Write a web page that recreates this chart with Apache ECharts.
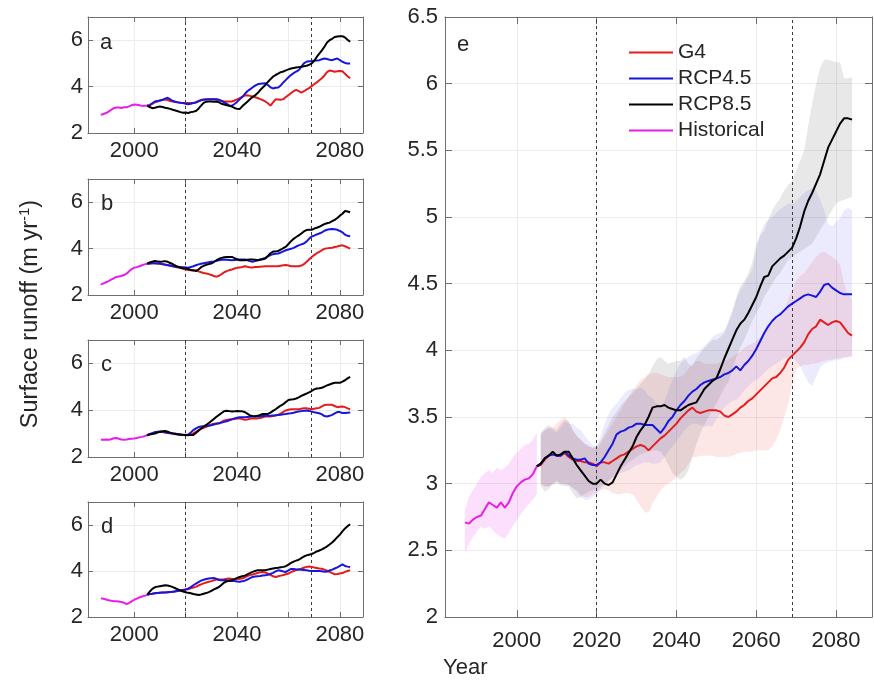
<!DOCTYPE html>
<html><head><meta charset="utf-8">
<script src="https://cdn.jsdelivr.net/npm/echarts@6/dist/echarts.min.js"></script>
<style>html,body{margin:0;padding:0;background:#fff}#c{width:874px;height:683px}</style>
</head><body><div id="c"></div>
<script>
// ---------------- DATA ----------------
function yearsFrom(start, end){ const a=[]; for(let y=start;y<=end;y++) a.push(y); return a; }
const histYears = yearsFrom(1987, 2005);
const projYears = yearsFrom(2005, 2084);
const bandYears = yearsFrom(2006, 2084);
const xTickValues = [2000, 2020, 2040, 2060, 2080];
const xLabelsSmall = [2000, 2040, 2080];
const xLabelsBig = [2000, 2020, 2040, 2060, 2080];
const yTicksSmall = [2, 4, 6];
const yTicksBig = [2, 2.5, 3, 3.5, 4, 4.5, 5, 5.5, 6, 6.5];
const markYears = [2020, 2069];
const seriesNames = ['G4', 'RCP4.5', 'RCP8.5', 'Historical'];
const panelLetters = ['a', 'b', 'c', 'd', 'e'];

// panel a
const histA = [2.78,2.82,2.86,2.92,3.00,3.07,3.10,3.10,3.08,3.11,3.11,3.15,3.20,3.23,3.22,3.20,3.17,3.17,3.18];
const g4A = [3.18,
 3.20,3.26,3.32,3.36,3.40,3.42,3.44,3.42,3.38,3.36,
 3.34,3.32,3.30,3.29,3.29,3.29,3.29,3.29,3.33,3.38,
 3.42,3.44,3.46,3.46,3.46,3.46,3.46,3.42,3.38,3.36,
 3.36,3.36,3.36,3.40,3.45,3.50,3.56,3.62,3.63,3.60,
 3.57,3.54,3.51,3.46,3.42,3.36,3.28,3.18,3.32,3.45,
 3.44,3.43,3.46,3.55,3.63,3.72,3.80,3.86,3.80,3.74,
 3.80,3.87,3.93,4.02,4.10,4.18,4.27,4.36,4.48,4.62,
 4.69,4.67,4.64,4.66,4.67,4.66,4.55,4.45,4.36];
const rcp45A = [3.18,
 3.20,3.28,3.36,3.38,3.40,3.43,3.48,3.52,3.45,3.38,
 3.35,3.32,3.30,3.29,3.26,3.24,3.26,3.29,3.31,3.36,
 3.41,3.43,3.44,3.45,3.46,3.45,3.44,3.43,3.38,3.32,
 3.26,3.19,3.18,3.25,3.34,3.45,3.55,3.68,3.80,3.88,
 3.96,4.04,4.10,4.12,4.13,4.14,4.07,3.97,3.92,3.95,
 3.96,4.05,4.18,4.29,4.40,4.50,4.58,4.65,4.71,4.85,
 5.00,5.07,5.09,5.10,5.12,5.13,5.14,5.18,5.21,5.19,
 5.16,5.14,5.18,5.21,5.14,5.07,5.02,5.00,5.00];
const rcp85A = [3.18,
 3.12,3.07,3.09,3.12,3.14,3.12,3.09,3.07,3.04,3.00,
 2.97,2.94,2.90,2.87,2.88,2.86,2.90,2.92,2.95,3.05,
 3.18,3.30,3.35,3.36,3.36,3.35,3.36,3.32,3.26,3.23,
 3.20,3.17,3.14,3.08,3.04,3.03,3.15,3.25,3.35,3.45,
 3.55,3.62,3.72,3.85,3.96,4.07,4.20,4.32,4.43,4.50,
 4.56,4.62,4.65,4.70,4.74,4.78,4.80,4.82,4.84,4.86,
 4.88,4.90,4.93,5.00,5.10,5.28,5.42,5.56,5.72,5.90,
 6.00,6.06,6.14,6.16,6.17,6.17,6.12,6.02,5.93];

// panel b
const histB = [2.45,2.50,2.55,2.60,2.66,2.72,2.78,2.80,2.82,2.86,2.92,3.02,3.12,3.18,3.20,3.24,3.28,3.32,3.35];
const g4B = [3.35,
 3.36,3.37,3.37,3.36,3.35,3.33,3.31,3.29,3.27,3.24,
 3.21,3.19,3.16,3.13,3.10,3.08,3.07,3.07,3.07,3.02,
 2.98,2.95,2.93,2.90,2.86,2.82,2.79,2.83,2.90,2.98,
 3.03,3.07,3.10,3.14,3.17,3.19,3.21,3.24,3.22,3.19,
 3.19,3.21,3.21,3.22,3.23,3.24,3.24,3.24,3.24,3.24,
 3.24,3.26,3.28,3.29,3.27,3.24,3.24,3.24,3.24,3.27,
 3.33,3.42,3.53,3.63,3.72,3.80,3.86,3.93,3.99,4.01,
 4.03,4.04,4.07,4.09,4.12,4.14,4.10,4.05,4.00];
const rcp45B = [3.35,
 3.36,3.37,3.37,3.36,3.36,3.33,3.30,3.28,3.26,3.24,
 3.23,3.22,3.21,3.20,3.19,3.18,3.21,3.24,3.28,3.32,
 3.35,3.37,3.39,3.41,3.43,3.45,3.48,3.50,3.52,3.53,
 3.52,3.51,3.50,3.51,3.52,3.53,3.53,3.53,3.50,3.46,
 3.43,3.46,3.50,3.53,3.56,3.60,3.66,3.72,3.76,3.78,
 3.79,3.83,3.88,3.93,3.96,3.99,4.03,4.09,4.14,4.18,
 4.22,4.30,4.42,4.52,4.56,4.61,4.65,4.70,4.77,4.81,
 4.83,4.84,4.83,4.81,4.76,4.70,4.60,4.55,4.53];
const rcp85B = [3.35,
 3.40,3.44,3.47,3.45,3.43,3.44,3.46,3.43,3.38,3.33,
 3.27,3.21,3.17,3.15,3.14,3.12,3.08,3.06,3.03,3.10,
 3.20,3.26,3.30,3.33,3.36,3.42,3.50,3.56,3.60,3.63,
 3.64,3.64,3.64,3.59,3.54,3.50,3.50,3.50,3.52,3.53,
 3.53,3.52,3.50,3.52,3.54,3.57,3.68,3.80,3.87,3.88,
 3.90,3.96,4.02,4.08,4.20,4.32,4.42,4.50,4.57,4.65,
 4.74,4.80,4.81,4.81,4.86,4.90,4.94,5.00,5.06,5.09,
 5.12,5.18,5.24,5.32,5.42,5.50,5.62,5.60,5.57];

// panel c
const histC = [2.74,2.74,2.75,2.74,2.76,2.80,2.81,2.78,2.75,2.74,2.75,2.77,2.78,2.79,2.81,2.84,2.86,2.89,2.93];
const g4C = [2.93,
 2.98,3.01,3.05,3.07,3.08,3.07,3.05,3.03,3.01,2.99,
 2.97,2.96,2.95,2.94,2.93,2.93,2.96,3.01,3.08,3.15,
 3.20,3.25,3.29,3.34,3.39,3.42,3.43,3.44,3.50,3.56,
 3.58,3.60,3.61,3.62,3.64,3.65,3.62,3.59,3.60,3.63,
 3.65,3.65,3.65,3.67,3.70,3.73,3.73,3.73,3.75,3.77,
 3.80,3.86,3.93,3.99,4.02,4.04,4.04,4.04,4.04,4.06,
 4.08,4.08,4.06,4.04,4.06,4.08,4.10,4.16,4.22,4.23,
 4.23,4.23,4.18,4.13,4.15,4.16,4.13,4.08,4.04];
const rcp45C = [2.93,
 2.98,3.02,3.06,3.08,3.08,3.08,3.06,3.04,3.02,3.01,
 2.99,2.97,2.95,2.94,2.94,2.96,3.05,3.15,3.22,3.28,
 3.30,3.31,3.32,3.34,3.36,3.39,3.42,3.44,3.47,3.50,
 3.53,3.57,3.61,3.65,3.68,3.70,3.70,3.70,3.71,3.72,
 3.73,3.73,3.73,3.74,3.75,3.76,3.76,3.76,3.77,3.78,
 3.80,3.81,3.83,3.84,3.86,3.87,3.89,3.92,3.94,3.96,
 3.98,3.99,3.97,3.94,3.91,3.89,3.87,3.82,3.75,3.73,
 3.76,3.80,3.86,3.92,3.92,3.88,3.88,3.89,3.90];
const rcp85C = [2.93,
 2.96,2.98,3.00,3.04,3.08,3.10,3.11,3.08,3.04,3.01,
 2.99,2.97,2.96,2.95,2.94,2.94,2.94,2.94,3.03,3.12,
 3.22,3.30,3.37,3.45,3.54,3.63,3.72,3.80,3.88,3.96,
 3.98,3.96,3.94,3.95,3.97,3.96,3.95,3.92,3.85,3.78,
 3.75,3.74,3.76,3.80,3.84,3.84,3.84,3.90,3.97,4.04,
 4.12,4.20,4.26,4.35,4.44,4.46,4.47,4.50,4.55,4.61,
 4.66,4.71,4.76,4.82,4.89,4.93,4.94,4.96,5.01,5.06,
 5.10,5.14,5.17,5.17,5.17,5.22,5.28,5.36,5.42];

// panel d
const histD = [2.81,2.79,2.76,2.73,2.71,2.69,2.68,2.67,2.65,2.62,2.56,2.61,2.68,2.75,2.80,2.85,2.89,2.92,2.96];
const g4D = [2.96,
 3.00,3.01,3.03,3.04,3.05,3.06,3.07,3.08,3.09,3.10,
 3.11,3.13,3.15,3.17,3.19,3.21,3.25,3.28,3.31,3.37,
 3.42,3.46,3.50,3.53,3.56,3.60,3.63,3.63,3.63,3.64,
 3.66,3.67,3.65,3.63,3.64,3.66,3.67,3.72,3.78,3.82,
 3.85,3.88,3.91,3.94,3.96,3.93,3.89,3.83,3.77,3.74,
 3.77,3.80,3.83,3.86,3.89,3.95,4.00,4.04,4.07,4.10,
 4.14,4.18,4.20,4.18,4.15,4.13,4.11,4.10,4.06,4.01,
 3.96,3.91,3.86,3.87,3.89,3.91,3.96,4.00,4.03];
const rcp45D = [2.96,
 3.00,3.01,3.03,3.04,3.05,3.06,3.07,3.08,3.09,3.10,
 3.12,3.14,3.16,3.17,3.20,3.23,3.30,3.38,3.45,3.52,
 3.58,3.62,3.65,3.67,3.69,3.70,3.66,3.61,3.60,3.60,
 3.59,3.58,3.57,3.56,3.54,3.53,3.55,3.58,3.63,3.69,
 3.74,3.76,3.77,3.78,3.80,3.81,3.84,3.87,3.92,3.98,
 4.03,4.01,3.98,3.96,4.03,4.09,4.09,4.07,4.06,4.05,
 4.04,4.03,4.01,4.00,4.00,4.00,4.00,3.99,3.97,3.98,
 4.02,4.06,4.11,4.16,4.22,4.29,4.22,4.19,4.17];
const rcp85D = [2.96,
 3.10,3.22,3.29,3.32,3.34,3.36,3.38,3.37,3.34,3.30,
 3.25,3.20,3.15,3.11,3.08,3.05,3.03,3.00,2.98,2.96,
 2.98,3.01,3.04,3.08,3.14,3.20,3.25,3.31,3.40,3.50,
 3.55,3.58,3.60,3.65,3.70,3.74,3.77,3.80,3.85,3.91,
 3.96,4.00,4.03,4.03,4.03,4.03,4.06,4.09,4.11,4.13,
 4.14,4.16,4.18,4.21,4.28,4.35,4.41,4.45,4.49,4.56,
 4.63,4.68,4.71,4.74,4.79,4.85,4.89,4.94,5.00,5.07,
 5.15,5.24,5.35,5.47,5.58,5.72,5.85,5.95,6.03];

// panel e (mean lines)
const histE = [2.71,2.70,2.73,2.75,2.76,2.81,2.86,2.84,2.82,2.86,2.82,2.86,2.93,2.98,3.01,3.03,3.04,3.07,3.13];
const g4E = [3.13,
 3.14,3.18,3.21,3.22,3.21,3.21,3.23,3.20,3.18,3.17,
 3.17,3.16,3.16,3.15,3.13,3.16,3.16,3.15,3.17,3.19,
 3.21,3.22,3.24,3.26,3.28,3.29,3.28,3.25,3.28,3.31,
 3.34,3.36,3.39,3.42,3.45,3.49,3.52,3.55,3.57,3.54,
 3.53,3.54,3.55,3.55,3.55,3.54,3.51,3.50,3.52,3.54,
 3.57,3.59,3.62,3.64,3.67,3.70,3.73,3.76,3.79,3.80,
 3.83,3.87,3.93,3.96,3.99,4.02,4.06,4.12,4.16,4.18,
 4.23,4.21,4.19,4.21,4.22,4.21,4.17,4.13,4.11];
const rcp45E = [3.13,
 3.15,3.19,3.21,3.22,3.21,3.21,3.24,3.21,3.19,3.18,
 3.18,3.19,3.15,3.14,3.14,3.16,3.20,3.25,3.30,3.37,
 3.39,3.40,3.42,3.43,3.45,3.45,3.44,3.44,3.44,3.41,
 3.38,3.42,3.47,3.50,3.55,3.59,3.62,3.66,3.69,3.71,
 3.74,3.76,3.77,3.78,3.79,3.80,3.82,3.83,3.85,3.88,
 3.85,3.89,3.92,3.96,4.01,4.07,4.13,4.18,4.22,4.25,
 4.27,4.30,4.33,4.35,4.37,4.39,4.41,4.42,4.41,4.40,
 4.44,4.49,4.50,4.47,4.45,4.43,4.42,4.42,4.42];
const rcp85E = [3.13,
 3.15,3.19,3.21,3.24,3.21,3.22,3.24,3.24,3.19,3.14,
 3.10,3.06,3.02,3.00,3.00,3.03,3.00,2.99,3.01,3.07,
 3.13,3.18,3.23,3.28,3.35,3.40,3.44,3.50,3.57,3.58,
 3.58,3.59,3.57,3.56,3.55,3.55,3.57,3.59,3.60,3.61,
 3.66,3.71,3.74,3.77,3.79,3.86,3.94,4.01,4.08,4.15,
 4.20,4.23,4.28,4.34,4.40,4.48,4.55,4.56,4.63,4.66,
 4.69,4.71,4.74,4.77,4.84,4.93,5.04,5.12,5.18,5.25,
 5.32,5.42,5.52,5.58,5.64,5.70,5.74,5.74,5.73];

// panel e (spread bands)
const histLoE = [2.48,2.55,2.60,2.64,2.68,2.66,2.68,2.65,2.62,2.60,2.59,2.63,2.68,2.73,2.77,2.81,2.85,2.88,2.92];
const histHiE = [2.80,2.90,2.95,3.00,3.05,3.08,3.10,3.08,3.12,3.10,3.12,3.15,3.20,3.23,3.26,3.29,3.30,3.33,3.38];
const g4LoE = [3.00,2.98,2.98,3.00,3.02,3.00,3.00,2.99,2.97,2.95, 2.92,2.90,2.90,2.92,2.93,2.95,2.96,2.95,2.93,2.92,
 2.92,2.93,2.93,2.92,2.88,2.83,2.79,2.78,2.85,2.90, 2.95,2.98,3.00,3.02,3.05,3.08,3.10,3.15,3.20,3.20,
 3.21,3.21,3.21,3.21,3.20,3.20,3.20,3.20,3.21,3.22, 3.23,3.24,3.24,3.24,3.25,3.25,3.25,3.25,3.28,3.33,
 3.40,3.50,3.60,3.75,3.86,3.88,3.89,3.89,3.90,3.90, 3.91,3.92,3.93,3.93,3.94,3.94,3.95,3.95,3.96];
const g4HiE = [3.36,3.40,3.42,3.42,3.45,3.48,3.50,3.46,3.40,3.36, 3.33,3.30,3.28,3.27,3.27,3.30,3.35,3.40,3.45,3.50,
 3.55,3.60,3.65,3.70,3.74,3.78,3.80,3.82,3.83,3.83, 3.82,3.81,3.80,3.80,3.80,3.80,3.82,3.86,3.90,3.92,
 3.92,3.90,3.90,3.90,3.90,3.91,3.92,3.93,3.95,3.97, 3.99,4.02,4.04,4.05,4.07,4.10,4.13,4.17,4.20,4.23,
 4.25,4.30,4.38,4.45,4.52,4.56,4.58,4.62,4.66,4.70, 4.73,4.74,4.72,4.70,4.68,4.64,4.50,4.42,4.38];
const rcp45LoE = [3.00,2.98,2.98,3.00,3.02,3.00,3.00,2.99,2.97,2.94, 2.90,2.88,2.88,2.90,2.93,2.96,2.99,3.02,3.04,3.06,
 3.08,3.09,3.10,3.12,3.14,3.15,3.16,3.16,3.15,3.15, 3.16,3.20,3.24,3.28,3.32,3.36,3.40,3.43,3.45,3.45,
 3.44,3.43,3.43,3.43,3.48,3.53,3.57,3.60,3.62,3.63, 3.66,3.70,3.73,3.76,3.78,3.80,3.83,3.86,3.88,3.90,
 3.92,3.94,3.95,3.95,3.92,3.88,3.82,3.76,3.73,3.80, 3.87,3.90,3.91,3.92,3.93,3.93,3.94,3.95,3.95];
const rcp45HiE = [3.38,3.40,3.42,3.40,3.38,3.42,3.46,3.45,3.45,3.42, 3.40,3.36,3.32,3.29,3.28,3.36,3.45,3.52,3.57,3.60,
 3.64,3.68,3.70,3.71,3.71,3.72,3.70,3.66,3.64,3.60, 3.58,3.62,3.70,3.78,3.85,3.90,3.93,3.95,3.97,3.98,
 4.00,4.03,4.06,4.10,4.12,4.13,4.15,4.20,4.28,4.38, 4.45,4.50,4.55,4.60,4.75,4.88,4.95,4.98,5.00,5.03,
 5.06,5.08,5.10,5.10,5.12,5.15,5.18,5.20,5.22,5.20, 5.13,5.05,4.95,4.93,4.96,4.99,5.05,5.07,5.05];
const rcp85LoE = [2.98,2.94,2.96,2.99,3.00,2.99,2.98,2.98,2.93,2.89, 2.90,2.92,2.94,2.95,2.96,2.98,3.00,3.02,3.05,3.08,
 3.10,3.13,3.16,3.18,3.20,3.22,3.23,3.24,3.25,3.25, 3.24,3.20,3.14,3.08,3.05,3.03,3.05,3.10,3.20,3.30,
 3.38,3.44,3.50,3.55,3.60,3.66,3.72,3.76,3.85,3.95, 4.02,4.08,4.15,4.22,4.28,4.33,4.40,4.45,4.50,4.55,
 4.58,4.63,4.68,4.70,4.72,4.74,4.76,4.78,4.80,4.85, 4.90,4.95,5.00,5.05,5.10,5.12,5.13,5.14,5.15];
const rcp85HiE = [3.38,3.42,3.44,3.42,3.40,3.45,3.48,3.47,3.40,3.36, 3.33,3.30,3.28,3.27,3.28,3.32,3.38,3.44,3.50,3.54,
 3.58,3.62,3.65,3.68,3.71,3.75,3.78,3.82,3.88,3.93, 3.95,3.92,3.90,3.91,3.92,3.92,3.95,3.90,3.88,3.94,
 3.98,4.02,4.05,4.08,4.08,4.10,4.13,4.22,4.30,4.40, 4.48,4.52,4.58,4.66,4.80,4.86,4.90,4.98,5.05,5.10,
 5.14,5.20,5.24,5.27,5.35,5.42,5.50,5.68,5.85,6.00, 6.12,6.18,6.18,6.17,6.16,6.16,6.04,6.04,6.05];

// ---------------- STYLE ----------------
const FONT = '"Liberation Sans", Arial, Helvetica, sans-serif';
const TXT = '#262626';
const AX = '#6e6e6e';
const GRIDC = '#ececec';
const COL = {G4:'#e41c1c', 'RCP4.5':'#1616dc', 'RCP8.5':'#000000', Historical:'#e61ee6'};
const BAND = {G4:'rgba(240,60,60,0.13)', 'RCP4.5':'rgba(90,90,240,0.12)', 'RCP8.5':'rgba(80,80,80,0.13)', Historical:'rgba(240,80,240,0.18)'};

const grids = [
  {left:88, top:17, width:275, height:116},
  {left:88, top:179, width:275, height:116},
  {left:88, top:340, width:275, height:117},
  {left:88, top:502, width:275, height:115},
  {left:445, top:17, width:427, height:600}
];

function pairs(xs, ys){ const n=Math.min(xs.length, ys.length); const o=[]; for(let i=0;i<n;i++) o.push([xs[i], ys[i]]); return o; }

const xAxis = [], yAxis = [], series = [];
grids.forEach((g, gi) => {
  const big = gi === 4;
  const tl = big ? 7 : 5;
  const fs = 22;
  const common = {type:'value', gridIndex:gi, min:1982, max:2089,
    axisLine:{show:true, onZero:false, lineStyle:{color:AX, width:1}},
    axisTick:{show:true, inside:true, length:tl, customValues:xTickValues, lineStyle:{color:AX, width:1}}};
  xAxis.push(Object.assign({}, common, {position:'bottom',
    axisLabel:{show:true, customValues: big ? xLabelsBig : xLabelsSmall, formatter:v=>String(v), fontSize:fs, fontFamily:FONT, color:TXT, margin: big ? 13 : 7},
    splitLine:{show:true, lineStyle:{color:GRIDC, width:1}}}));
  xAxis.push(Object.assign({}, common, {position:'top', axisLabel:{show:false}, splitLine:{show:false}}));
  const yt = big ? yTicksBig : yTicksSmall;
  const ycommon = {type:'value', gridIndex:gi, min:2, max: big ? 6.5 : 7,
    axisLine:{show:true, onZero:false, lineStyle:{color:AX, width:1}},
    axisTick:{show:true, inside:true, length:tl, customValues:yt, lineStyle:{color:AX, width:1}}};
  yAxis.push(Object.assign({}, ycommon, {position:'left',
    axisLabel:{show:true, customValues:yt, fontSize:fs, fontFamily:FONT, color:TXT, margin: big ? 7 : 5},
    splitLine:{show:true, lineStyle:{color:GRIDC, width:1}}}));
  yAxis.push(Object.assign({}, ycommon, {position:'right', axisLabel:{show:false}, splitLine:{show:false}}));
});

function lineSeries(name, xs, ys, gi, withMark){
  const s = {type:'line', name, xAxisIndex:gi*2, yAxisIndex:gi*2, data:pairs(xs, ys),
    symbol:'none', showSymbol:false, z:5, silent:true,
    itemStyle:{color:COL[name]}, lineStyle:{color:COL[name], width:2}};
  if (withMark) {
    s.markLine = {silent:true, symbol:['none','none'], label:{show:false},
      lineStyle:{type:[3,3], color:'#3a3a3a', width:1},
      data: markYears.map(y => ({xAxis:y}))};
  }
  return s;
}
// spread band: polygon drawn through the axis scales (api.coord)
function bandSeries(key, xs, lo, hi, gi){
  const n = Math.min(xs.length, lo.length, hi.length);
  const data = [];
  for (let i=0;i<n;i++) data.push([xs[i], lo[i], hi[i]]);
  return {type:'custom', name:'band-'+key, xAxisIndex:gi*2, yAxisIndex:gi*2, data, z:2, silent:true,
    encode:{x:0, y:[1,2]}, clip:true,
    renderItem: function(params, api){
      if (params.dataIndex !== 0) return null;
      const pts = [];
      for (let i=0;i<n;i++) pts.push(api.coord([data[i][0], data[i][1]]));
      for (let i=n-1;i>=0;i--) pts.push(api.coord([data[i][0], data[i][2]]));
      return {type:'polygon', shape:{points:pts}, style:{fill:BAND[key], stroke:null}};
    }};
}

const smallPanels = [
  {hist:histA, g4:g4A, r45:rcp45A, r85:rcp85A},
  {hist:histB, g4:g4B, r45:rcp45B, r85:rcp85B},
  {hist:histC, g4:g4C, r45:rcp45C, r85:rcp85C},
  {hist:histD, g4:g4D, r45:rcp45D, r85:rcp85D}
];
smallPanels.forEach((p, gi) => {
  series.push(lineSeries('G4', projYears, p.g4, gi, true));
  series.push(lineSeries('RCP4.5', projYears, p.r45, gi, false));
  series.push(lineSeries('RCP8.5', projYears, p.r85, gi, false));
  series.push(lineSeries('Historical', histYears, p.hist, gi, false));
});
// panel e
series.push(bandSeries('G4', bandYears, g4LoE, g4HiE, 4));
series.push(bandSeries('RCP4.5', bandYears, rcp45LoE, rcp45HiE, 4));
series.push(bandSeries('RCP8.5', bandYears, rcp85LoE, rcp85HiE, 4));
series.push(bandSeries('Historical', histYears, histLoE, histHiE, 4));
series.push(lineSeries('G4', projYears, g4E, 4, true));
series.push(lineSeries('RCP4.5', projYears, rcp45E, 4, false));
series.push(lineSeries('RCP8.5', projYears, rcp85E, 4, false));
series.push(lineSeries('Historical', histYears, histE, 4, false));

const letterPos = [[100,43],[101,204],[101,365],[101,527],[457,45]];
const graphic = panelLetters.map((t, i) => ({type:'text', x:letterPos[i][0], y:letterPos[i][1], z:10,
  style:{text:t, font:'22px ' + FONT, fill:TXT, align:'left', verticalAlign:'middle'}}));
graphic.push({type:'text', x:31, y:314, rotation:Math.PI/2, z:10,
  style:{text:'{n|Surface runoff (m yr}{s|-1}{n|)}', align:'center', verticalAlign:'middle',
    rich:{n:{fontSize:23.5, fontFamily:FONT, fill:TXT, lineHeight:28},
          s:{fontSize:15, fontFamily:FONT, fill:TXT, lineHeight:28, verticalAlign:'top'}}}});
graphic.push({type:'text', x:443, y:668, z:10,
  style:{text:'Year', font:'22px ' + FONT, fill:TXT, align:'left', verticalAlign:'middle'}});

const chart = echarts.init(document.getElementById('c'), null, {renderer:'canvas'});
chart.setOption({
  animation:false,
  backgroundColor:'#ffffff',
  grid: grids,
  xAxis, yAxis, series, graphic,
  legend:{show:true, orient:'vertical', left:624, top:37, itemWidth:44, itemHeight:2, itemGap:5, icon:'rect',
    selectedMode:false, data:seriesNames,
    textStyle:{fontSize:21, lineHeight:21, fontFamily:FONT, color:TXT}}
});
</script></body></html>
